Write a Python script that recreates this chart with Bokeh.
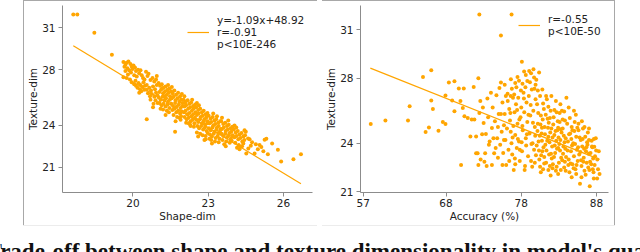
from bokeh.plotting import figure
from bokeh.models import Range1d, FixedTicker, Spacer, Label
from bokeh.layouts import row, column
from bokeh.embed import file_html
from bokeh.resources import INLINE

ORANGE = "#FFA500"

# ---------------- data: left panel (Shape-dim vs Texture-dim) ----------------
left_points = [
    (17.62, 31.96), (17.78, 31.96), (18.46, 30.64), (19.16, 29.06),
    (19.62, 28.55), (19.70, 28.35), (19.75, 28.50), (19.82, 28.58), (19.66, 28.20), (19.78, 28.10),
    (19.90, 28.40), (19.95, 28.22), (19.70, 27.90), (19.85, 27.95), (19.62, 27.45), (19.92, 27.80),
    (19.80, 27.65), (19.98, 28.05), (19.88, 27.30), (19.95, 27.10), (19.75, 27.40),
    (20.02, 28.30), (20.08, 28.15), (20.12, 27.90), (20.20, 28.00), (20.05, 27.60), (20.15, 27.50),
    (20.25, 27.75), (20.30, 27.95), (20.35, 27.60), (20.40, 27.40), (20.10, 27.20), (20.22, 27.05),
    (20.30, 26.90), (20.05, 26.95), (20.18, 26.70), (20.28, 26.60), (20.38, 26.75), (20.45, 26.55),
    (20.42, 27.10), (20.48, 26.85), (20.33, 26.45), (20.12, 26.85), (20.46, 27.30),
    (20.52, 27.85), (20.58, 27.55), (20.62, 27.70), (20.70, 27.25), (20.78, 27.40), (20.85, 27.15),
    (20.92, 27.30), (20.55, 26.90), (20.65, 26.70), (20.72, 26.50), (20.80, 26.80), (20.88, 26.60),
    (20.95, 26.90), (20.60, 26.30), (20.68, 26.10), (20.75, 26.25), (20.85, 26.05), (20.92, 26.35),
    (20.98, 26.15), (20.55, 26.55), (20.90, 25.80), (20.70, 25.85), (20.98, 25.60), (20.82, 25.55),
    (20.55, 24.45),
    (21.02, 27.05), (21.08, 26.85), (21.15, 26.95), (21.22, 26.70), (21.30, 26.80), (21.38, 26.55),
    (21.45, 26.65), (21.05, 26.40), (21.12, 26.55), (21.20, 26.30), (21.28, 26.45), (21.35, 26.20),
    (21.42, 26.35), (21.48, 26.10), (21.03, 26.00), (21.10, 25.85), (21.18, 26.05), (21.25, 25.80),
    (21.32, 25.95), (21.40, 25.70), (21.47, 25.85), (21.06, 25.60), (21.14, 25.45), (21.22, 25.55),
    (21.30, 25.35), (21.38, 25.50), (21.45, 25.25), (21.20, 25.15), (21.35, 25.05), (21.10, 25.20),
    (21.43, 24.95), (21.26, 26.10), (21.16, 26.65), (21.40, 26.90),
    (21.52, 26.45), (21.58, 26.30), (21.65, 26.50), (21.72, 26.20), (21.80, 26.35), (21.88, 26.10),
    (21.95, 26.25), (21.55, 25.95), (21.62, 26.05), (21.70, 25.80), (21.78, 25.95), (21.85, 25.70),
    (21.92, 25.85), (21.98, 25.60), (21.53, 25.55), (21.60, 25.40), (21.68, 25.60), (21.75, 25.35),
    (21.83, 25.50), (21.90, 25.25), (21.97, 25.40), (21.57, 25.10), (21.65, 25.20), (21.73, 24.95),
    (21.80, 25.05), (21.88, 24.85), (21.95, 25.00), (21.62, 24.75), (21.85, 24.55), (21.68, 23.54),
    (21.76, 24.60), (21.92, 24.65),
    (22.02, 25.85), (22.10, 25.70), (22.18, 25.80), (22.25, 25.55), (22.32, 25.65), (22.40, 25.40),
    (22.48, 25.50), (22.05, 25.35), (22.12, 25.45), (22.20, 25.20), (22.28, 25.30), (22.35, 25.05),
    (22.42, 25.20), (22.50, 24.95), (22.03, 24.95), (22.10, 25.05), (22.17, 24.80), (22.25, 24.90),
    (22.33, 24.65), (22.40, 24.80), (22.47, 24.55), (22.06, 24.60), (22.14, 24.45), (22.22, 24.55),
    (22.30, 24.30), (22.38, 24.40), (22.45, 24.15), (22.12, 24.20), (22.28, 24.05), (22.43, 23.90),
    (22.08, 25.60), (22.36, 25.85), (22.22, 24.15),
    (22.52, 25.30), (22.60, 25.10), (22.68, 25.20), (22.75, 24.95), (22.82, 25.05), (22.90, 24.80),
    (22.97, 24.90), (22.55, 24.75), (22.62, 24.85), (22.70, 24.60), (22.78, 24.70), (22.85, 24.45),
    (22.92, 24.55), (22.98, 24.30), (22.53, 24.40), (22.60, 24.25), (22.67, 24.45), (22.75, 24.15),
    (22.82, 24.30), (22.88, 24.05), (22.96, 24.15), (22.57, 23.95), (22.64, 23.80), (22.72, 23.95),
    (22.80, 23.70), (22.87, 23.85), (22.94, 23.60), (22.55, 23.50), (22.68, 23.40), (22.78, 23.30),
    (22.90, 23.25), (22.98, 23.45), (22.85, 22.95), (22.63, 25.45),
    (23.02, 24.70), (23.10, 24.50), (23.18, 24.60), (23.25, 24.35), (23.32, 24.45), (23.40, 24.20),
    (23.48, 24.30), (23.05, 24.15), (23.12, 24.25), (23.20, 24.00), (23.28, 24.10), (23.35, 23.85),
    (23.42, 23.95), (23.50, 23.75), (23.03, 23.80), (23.10, 23.65), (23.17, 23.85), (23.25, 23.55),
    (23.33, 23.70), (23.40, 23.45), (23.47, 23.60), (23.07, 23.35), (23.15, 23.20), (23.22, 23.40),
    (23.30, 23.10), (23.38, 23.25), (23.45, 23.05), (23.12, 22.95), (23.27, 22.85), (23.42, 22.80),
    (23.35, 24.65), (23.05, 23.05),
    (23.52, 24.30), (23.60, 24.10), (23.68, 24.20), (23.75, 23.95), (23.82, 24.05), (23.90, 23.80),
    (23.97, 23.90), (23.55, 23.75), (23.62, 23.85), (23.70, 23.60), (23.78, 23.70), (23.85, 23.45),
    (23.92, 23.55), (23.98, 23.30), (23.53, 23.40), (23.60, 23.25), (23.68, 23.40), (23.75, 23.15),
    (23.82, 23.30), (23.90, 23.05), (23.96, 23.20), (23.57, 22.95), (23.72, 22.85), (23.86, 22.75),
    (23.64, 22.65), (23.80, 24.35), (23.94, 22.90),
    (24.02, 23.70), (24.10, 23.50), (24.18, 23.60), (24.25, 23.35), (24.33, 23.45), (24.40, 23.20),
    (24.47, 23.30), (24.05, 23.15), (24.13, 23.25), (24.20, 23.00), (24.28, 23.10), (24.36, 22.85),
    (24.44, 22.95), (24.08, 22.75), (24.22, 22.60), (24.35, 22.50), (24.15, 22.40), (24.30, 22.47),
    (24.45, 23.65), (24.12, 23.85),
    (24.52, 21.99), (24.59, 23.07), (24.65, 23.00), (24.70, 22.55), (24.85, 21.99), (24.98, 22.30),
    (25.05, 22.60), (25.12, 22.45), (25.25, 22.97), (25.32, 23.05), (25.38, 21.93), (25.55, 22.70),
    (25.78, 22.25), (25.91, 21.41), (26.40, 21.58), (26.70, 21.93), (24.75, 22.80), (25.20, 22.15),
    (24.90, 22.65), (24.60, 22.35),
    (20.25, 26.35), (20.95, 27.55), (21.55, 26.75), (21.70, 24.30), (22.05, 26.10), (22.30, 23.95),
    (22.55, 25.60), (22.90, 23.00), (23.20, 24.85), (23.55, 24.55), (23.15, 22.70), (23.70, 22.50),
    (24.05, 24.00), (24.25, 22.30), (24.50, 23.55), (24.40, 22.70), (21.90, 24.40), (20.80, 25.30),
    (21.30, 24.75), (22.60, 23.20),
]
shape_dim = [p[0] for p in left_points]
texture_dim_left = [p[1] for p in left_points]

left_slope, left_intercept = -1.09, 48.92
left_fit_x = [17.62, 26.70]
left_legend = "y=-1.09x+48.92\nr=-0.91\np<10E-246"
left_xticks = [20, 23, 26]
left_yticks = [21, 24, 28, 31]

# ---------------- data: right panel (Accuracy vs Texture-dim) ----------------
right_points = [
    (72.43, 31.93), (76.71, 31.93), (75.30, 30.63), (78.08, 29.01),
    (58.00, 25.18), (59.95, 25.39), (62.95, 25.39), (63.17, 26.28), (64.94, 28.08), (66.04, 28.49),
    (65.29, 24.68), (65.73, 24.97), (66.04, 26.63), (66.26, 26.11), (67.00, 24.77), (67.58, 25.30),
    (67.93, 25.18), (67.93, 26.94), (68.38, 27.73), (68.82, 26.63), (69.12, 27.81), (69.12, 25.97),
    (69.70, 27.37), (69.92, 26.59), (70.00, 22.65), (70.36, 27.37), (70.23, 26.17), (70.45, 25.66),
    (70.89, 25.55), (71.24, 24.41), (71.42, 25.45), (71.68, 27.46), (71.77, 25.45), (72.00, 24.41),
    (72.00, 23.38), (72.20, 23.38), (72.30, 28.00), (72.30, 22.65), (72.43, 25.86), (72.56, 26.59),
    (72.80, 24.55), (73.00, 25.24), (73.10, 22.86), (73.20, 23.38), (73.30, 24.56), (73.50, 26.75),
    (73.60, 25.60), (73.80, 24.10), (73.97, 27.10), (74.10, 22.65), (74.10, 24.94), (74.20, 26.20),
    (74.40, 23.38), (74.50, 25.35), (74.60, 23.70), (74.70, 26.95), (74.80, 24.30), (75.00, 25.80),
    (75.10, 27.40), (75.20, 23.90), (75.30, 27.73), (75.30, 25.80), (75.40, 24.70), (75.50, 22.65),
    (75.50, 26.50), (75.60, 23.40), (75.70, 25.10), (75.80, 25.80), (75.90, 24.20), (75.95, 26.90),
    (76.00, 22.65), (75.80, 27.60), (74.90, 23.10), (73.70, 23.90), (72.90, 26.20),
    (76.62, 27.93), (77.06, 27.00), (76.18, 27.04), (77.50, 28.08), (77.70, 27.85), (78.38, 28.41),
    (79.05, 28.45), (79.62, 28.56), (80.37, 28.35), (79.70, 28.04), (78.80, 27.83), (78.16, 27.66),
    (76.20, 26.60), (76.40, 26.10), (76.50, 25.40), (76.60, 24.70), (76.70, 24.00), (76.80, 23.30),
    (76.90, 26.80), (77.00, 22.34), (77.10, 25.90), (77.20, 24.50), (77.30, 26.40), (77.40, 23.70),
    (77.50, 25.20), (77.60, 26.80), (77.70, 24.10), (77.80, 22.90), (77.90, 25.60), (78.00, 26.20),
    (78.10, 23.50), (78.20, 24.80), (78.30, 27.10), (78.40, 25.90), (78.50, 22.60), (78.60, 24.30),
    (78.70, 26.50), (78.80, 25.30), (78.90, 23.20), (79.00, 26.90), (79.10, 24.60), (79.20, 25.70),
    (79.30, 22.90), (79.40, 27.30), (79.50, 24.00), (79.60, 26.00), (79.70, 23.60), (79.80, 25.00),
    (79.90, 26.70), (76.30, 23.60), (76.55, 25.85), (76.85, 24.35), (77.15, 23.05), (77.45, 26.05),
    (77.75, 25.45), (78.05, 24.05), (78.35, 26.75), (78.65, 23.85), (78.95, 25.75), (79.25, 26.35),
    (79.55, 25.25), (79.85, 24.45), (76.75, 27.35), (77.35, 27.45), (77.95, 27.25), (78.55, 27.45),
    (79.15, 27.75), (79.75, 27.35), (78.45, 22.35), (79.45, 22.55), (76.95, 25.05), (77.55, 24.25),
    (78.15, 25.05), (78.75, 24.55), (79.35, 23.95), (79.95, 23.25),
    (80.10, 26.40), (80.20, 25.20), (80.30, 24.10), (80.40, 23.00), (80.50, 26.90), (80.60, 25.70),
    (80.70, 24.60), (80.80, 23.50), (80.90, 22.40), (81.00, 26.10), (81.10, 25.00), (81.20, 23.90),
    (81.30, 22.80), (81.40, 26.70), (81.50, 25.50), (81.60, 24.40), (81.70, 23.30), (81.80, 22.60),
    (81.90, 26.00), (82.00, 24.90), (82.10, 23.80), (82.20, 22.70), (82.30, 25.60), (82.40, 24.50),
    (82.50, 23.40), (82.60, 22.30), (82.70, 25.90), (82.80, 24.80), (82.90, 23.70), (83.00, 22.80),
    (83.10, 25.30), (83.20, 24.20), (83.30, 23.10), (83.40, 26.00), (83.50, 24.90), (83.60, 23.80),
    (83.70, 22.50), (83.80, 25.40), (83.90, 24.30), (84.00, 26.80),
    (80.15, 24.75), (80.35, 23.55), (80.55, 25.15), (80.75, 24.15), (80.95, 23.75), (81.15, 24.55),
    (81.35, 23.55), (81.55, 24.95), (81.75, 24.05), (81.95, 23.35), (82.15, 24.35), (82.35, 23.15),
    (82.55, 24.75), (82.75, 23.65), (82.95, 24.35), (83.15, 23.55), (83.35, 24.65), (83.55, 23.35),
    (83.75, 24.05), (83.95, 23.15),
    (80.25, 25.85), (80.45, 24.45), (80.65, 23.25), (80.85, 25.45), (81.05, 23.15), (81.25, 25.75),
    (81.45, 24.15), (81.65, 25.25), (81.85, 24.65), (82.05, 23.05), (82.25, 25.15), (82.45, 23.85),
    (82.65, 24.15), (82.85, 25.35), (83.05, 23.95), (83.25, 24.85), (83.45, 22.95), (83.65, 24.45),
    (83.85, 23.65),
    (80.05, 23.85), (80.50, 22.55), (81.05, 22.75), (81.60, 22.35), (82.15, 22.45), (82.70, 22.55),
    (83.25, 22.35), (83.80, 22.85),
    (80.20, 27.25), (80.90, 26.45), (81.60, 26.25), (82.40, 26.05), (83.10, 25.85), (83.70, 25.95),
    (80.75, 24.95), (81.80, 25.55), (82.90, 24.95), (83.50, 25.45),
    (84.10, 25.20), (84.20, 24.10), (84.30, 23.00), (84.40, 22.20), (84.50, 24.60), (84.60, 23.50),
    (84.70, 25.00), (84.80, 22.70), (84.90, 24.00), (85.00, 23.20), (85.10, 25.30), (85.20, 22.40),
    (85.30, 24.40), (85.40, 23.60), (85.50, 22.90), (85.60, 24.80), (85.70, 23.30), (85.80, 21.50),
    (85.90, 24.20), (86.00, 22.60), (86.10, 23.80), (86.20, 24.90), (86.30, 23.10), (86.40, 22.30),
    (86.50, 24.40), (86.60, 23.50), (86.70, 22.80), (86.80, 23.90), (86.90, 22.50), (87.00, 24.20),
    (87.10, 21.35), (87.20, 23.40), (87.30, 22.70), (87.40, 23.80), (87.50, 22.40), (87.64, 21.83),
    (87.80, 23.20), (88.08, 21.83), (88.20, 22.40), (88.40, 22.10),
    (84.15, 23.55), (84.35, 24.55), (84.55, 22.75), (84.75, 23.85), (84.95, 22.45), (85.15, 23.95),
    (85.35, 22.65), (85.55, 23.75), (85.75, 24.35), (85.95, 22.95), (86.15, 24.25), (86.35, 23.65),
    (86.55, 22.05), (86.75, 24.05), (86.95, 23.35), (87.15, 22.85), (87.35, 24.15), (87.55, 23.05),
    (87.75, 22.65), (87.95, 23.55),
    (84.25, 22.65), (84.65, 24.25), (85.05, 24.75), (85.45, 24.95), (85.85, 23.45), (86.25, 22.85),
    (86.65, 23.75), (87.05, 22.35), (87.45, 23.75), (88.10, 23.00), (84.45, 25.55), (85.25, 25.75),
    (86.05, 25.35), (86.85, 24.65), (87.65, 24.25), (87.70, 23.78), (87.60, 22.20),
    (72.60, 23.00), (73.40, 22.60), (74.30, 24.30), (74.90, 25.00), (75.70, 24.20), (76.10, 24.90),
    (76.40, 22.90), (77.20, 22.70), (77.80, 23.60), (76.60, 26.90), (77.20, 27.70), (78.60, 28.20),
    (79.30, 28.30), (80.00, 27.90), (79.90, 27.60), (80.80, 27.30), (81.30, 26.90), (82.00, 26.90),
    (82.60, 26.60), (83.20, 26.40), (84.30, 26.20), (85.00, 26.00), (84.80, 24.80), (85.60, 25.20),
    (86.40, 25.00), (87.00, 24.90), (87.90, 24.30), (88.30, 23.50), (86.00, 21.90), (85.30, 22.10),
    (84.70, 21.90), (83.90, 22.30), (82.90, 22.10), (81.90, 22.00), (80.60, 22.20), (79.80, 22.80),
]
accuracy = [p[0] for p in right_points]
texture_dim_right = [p[1] for p in right_points]

right_fit_x = [57.95, 88.40]
right_fit_y = [28.62, 23.00]
right_legend = "r=-0.55\np<10E-50"
right_xticks = [57, 68, 78, 88]
right_yticks = [21, 24, 28, 31]

caption = "Trade-off between shape and texture dimensionality in model's qualities"

FONT = "DejaVu Sans"
PANEL_H = 224
BORDER = "#a8a8a8"


def style_axes(p, xticks, yticks, xlabel, ylabel):
    p.xgrid.visible = False
    p.ygrid.visible = False
    p.outline_line_color = None
    p.xaxis.ticker = FixedTicker(ticks=xticks)
    p.yaxis.ticker = FixedTicker(ticks=yticks)
    p.xaxis.axis_label = xlabel
    p.yaxis.axis_label = ylabel
    for ax in (p.xaxis[0], p.yaxis[0]):
        ax.axis_line_color = "#8c8c8c"
        ax.axis_line_width = 1
        ax.major_tick_line_color = "#8c8c8c"
        ax.major_tick_out = 4
        ax.major_tick_in = 0
        ax.minor_tick_out = 0
        ax.minor_tick_in = 0
        ax.major_label_text_font = FONT
        ax.major_label_text_font_size = "10.5px"
        ax.major_label_text_color = "#222222"
        ax.axis_label_text_font = FONT
        ax.axis_label_text_font_size = "10.5px"
        ax.axis_label_text_font_style = "normal"
        ax.axis_label_text_color = "#222222"
        ax.axis_label_standoff = 0
    p.xaxis.major_label_standoff = 2
    p.yaxis.major_label_standoff = 3


def style_legend(p, loc):
    leg = p.legend[0]
    leg.location = loc
    leg.border_line_color = None
    leg.background_fill_alpha = 0
    leg.padding = 0
    leg.margin = 0
    leg.spacing = 0
    leg.glyph_width = 22
    leg.label_standoff = 8
    leg.label_text_font = FONT
    leg.label_text_font_size = "10.5px"
    leg.label_text_color = "#222222"
    leg.label_text_line_height = 1.1


# ---------------- left panel ----------------
p1 = figure(width=293, height=PANEL_H, x_range=Range1d(17.19, 27.16), y_range=Range1d(19.19, 32.60),
            output_backend="svg", toolbar_location=None,
            min_border_left=36, min_border_right=5, min_border_top=4, min_border_bottom=33)
p1.scatter(shape_dim, texture_dim_left, size=4, fill_color=ORANGE, line_color=None)
left_fit_y = [left_slope * x + left_intercept for x in left_fit_x]
p1.line(left_fit_x, left_fit_y, line_color=ORANGE, line_width=1.2, legend_label=left_legend)
style_axes(p1, left_xticks, left_yticks, "Shape-dim", "Texture-dim")
style_legend(p1, (125, 142))

# ---------------- right panel ----------------
p2 = figure(width=292, height=PANEL_H, x_range=Range1d(56.64, 89.59), y_range=Range1d(20.96, 32.48),
            output_backend="svg", toolbar_location=None,
            min_border_left=37, min_border_right=6, min_border_top=4, min_border_bottom=33)
p2.scatter(accuracy, texture_dim_right, size=4, fill_color=ORANGE, line_color=None)
p2.line(right_fit_x, right_fit_y, line_color=ORANGE, line_width=1.2, legend_label=right_legend)
style_axes(p2, right_xticks, right_yticks, "Accuracy (%)", "Texture-dim")
style_legend(p2, (158, 155))

# ---------------- caption strip ----------------
p3 = figure(width=640, height=26, x_range=Range1d(0, 1), y_range=Range1d(0, 1),
            output_backend="svg", toolbar_location=None, x_axis_type=None, y_axis_type=None,
            min_border=0)
p3.grid.visible = False
p3.outline_line_color = None
p3.add_layout(Label(x=-14, y=1, x_units="screen", y_units="screen", text=caption,
                    text_font="Liberation Serif", text_font_style="bold", text_font_size="23px",
                    text_baseline="alphabetic", text_color="#111111"))

top_line = row(Spacer(width=23, height=1),
               Spacer(width=294, height=1, styles={"background-color": BORDER}),
               Spacer(width=5, height=1),
               Spacer(width=293, height=1, styles={"background-color": BORDER}))
vline_l = Spacer(width=1, height=PANEL_H, styles={"background-color": BORDER})
vline_r = Spacer(width=1, height=PANEL_H, styles={"background-color": BORDER})
panels = row(Spacer(width=23, height=PANEL_H), vline_l, p1, Spacer(width=5, height=PANEL_H), p2, vline_r)
bottom_line = row(Spacer(width=23, height=1),
                  Spacer(width=294, height=1, styles={"background-color": "#ececec"}),
                  Spacer(width=5, height=1),
                  Spacer(width=293, height=1, styles={"background-color": "#ececec"}))
layout = column(top_line, panels, bottom_line, p3)

open("out.html", "w").write(file_html(layout, INLINE))
